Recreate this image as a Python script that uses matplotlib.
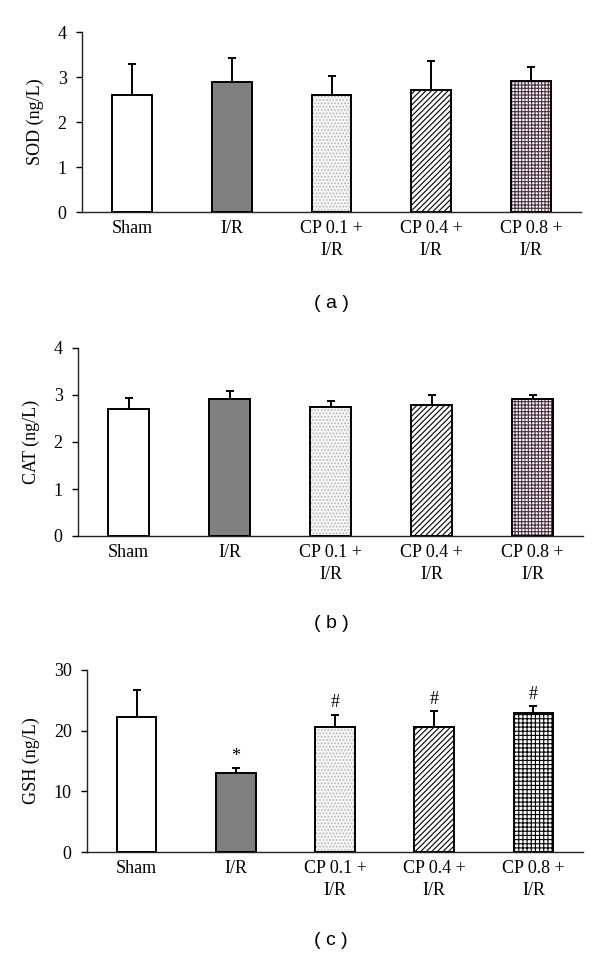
import numpy as np
import matplotlib
matplotlib.use("Agg")
import matplotlib.pyplot as plt

categories = ["Sham", "I/R", "CP 0.1 +\nI/R", "CP 0.4 +\nI/R", "CP 0.8 +\nI/R"]

sod_mean = [2.60, 2.90, 2.60, 2.71, 2.92]
sod_sd = [0.70, 0.52, 0.42, 0.65, 0.30]

cat_mean = [2.71, 2.91, 2.74, 2.79, 2.91]
cat_sd = [0.23, 0.17, 0.13, 0.20, 0.10]

gsh_mean = [22.3, 13.1, 20.6, 20.6, 22.9]
gsh_sd = [4.4, 0.7, 2.0, 2.6, 1.1]
gsh_marks = ["", "*", "#", "#", "#"]

W, H = 600, 955
fig = plt.figure(figsize=(W / 100, H / 100), dpi=100)
plt.rcParams["hatch.linewidth"] = 0.8
serif = ["Liberation Serif", "DejaVu Serif"]


def px_axes(left, right, top, bottom):
    return fig.add_axes([left / W, 1 - bottom / H, (right - left) / W, (bottom - top) / H])


def draw_panel(ax, means, sds, ymax, ystep, ylabel, grid_style):
    x = np.arange(len(means))
    w = 0.4
    faces = ["white", "#808080", "#f5f5f5", "white", "white"]
    hatches = [None, None, ".....", "//////", grid_style[0]]
    hcolors = [None, None, "#b8b8b8", "black", grid_style[1]]
    for i in range(len(means)):
        if hatches[i]:
            ax.bar(x[i], means[i], w, color=faces[i], edgecolor=hcolors[i],
                   hatch=hatches[i], linewidth=0, zorder=2)
            ax.bar(x[i], means[i], w, facecolor="none", edgecolor="black",
                   linewidth=1.4, zorder=3)
        else:
            ax.bar(x[i], means[i], w, color=faces[i], edgecolor="black",
                   linewidth=1.4, zorder=3)
    ax.errorbar(x, means, yerr=[np.zeros(len(sds)), sds], fmt="none",
                ecolor="black", elinewidth=1.4, capsize=3, capthick=1.4, zorder=1)
    ax.set_xlim(-0.5, len(means) - 0.5)
    ax.set_ylim(0, ymax)
    ax.set_yticks(np.arange(0, ymax + 0.001, ystep))
    ax.set_xticks(x)
    ax.set_xticklabels(categories, fontsize=13, family=serif, linespacing=1.35)
    for lab in ax.get_yticklabels():
        lab.set_fontfamily(serif)
        lab.set_fontsize(13)
    ax.tick_params(axis="x", length=0, pad=6)
    ax.tick_params(axis="y", length=4, width=1.0, pad=7, direction="out")
    for s in ["top", "right"]:
        ax.spines[s].set_visible(False)
    for s in ["left", "bottom"]:
        ax.spines[s].set_linewidth(1.0)
        ax.spines[s].set_color("#222222")
    ax.set_ylabel(ylabel, fontsize=13, family=serif, labelpad=10)
    ax.patch.set_alpha(0)


ax1 = px_axes(82, 581, 32, 212)
draw_panel(ax1, sod_mean, sod_sd, 4, 1, "SOD (ng/L)", ("+++++", "#4a3040"))

ax2 = px_axes(78, 583, 348, 536)
draw_panel(ax2, cat_mean, cat_sd, 4, 1, "CAT (ng/L)", ("+++++", "#4a3040"))

ax3 = px_axes(87, 583, 670, 852)
draw_panel(ax3, gsh_mean, gsh_sd, 30, 10, "GSH (ng/L)", ("++++", "black"))
for i, m in enumerate(gsh_marks):
    if m:
        ax3.text(i, gsh_mean[i] + gsh_sd[i] + 2.0, m, ha="center", va="center",
                 fontsize=13, family=serif)

for lab, yc in [("( a )", 303), ("( b )", 624), ("( c )", 940)]:
    fig.text(331 / W, 1 - yc / H, lab, ha="center", va="center", fontsize=14,
             family=["Liberation Sans", "DejaVu Sans"])

fig.savefig("out.png", dpi=100)
